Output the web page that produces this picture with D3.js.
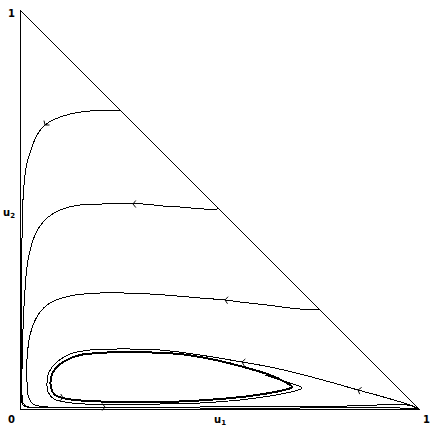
<!doctype HTML>
<meta charset="utf-8">
<style>
    body { margin: 0; background: #fff; }
    .curve { fill: none; stroke: black; stroke-width: 1; shape-rendering: crispEdges; }
    .cycle { fill: none; stroke: black; stroke-width: 2; shape-rendering: crispEdges; }
    .edge { fill: none; stroke: black; stroke-width: 1; shape-rendering: crispEdges; }
    .arrow { fill: none; stroke: black; stroke-width: 1; }
    .lbl { font-family: "DejaVu Sans", sans-serif; font-weight: bold; font-size: 10px; fill: black; }
</style>
<html>
<head>
    <script src="https://d3js.org/d3.v7.min.js"></script>
</head>
<body>
<div id="simplex"></div>
<script>

    // trajectories, as [u1, u2]
    var curveA = [[0.2506,0.7494],[0.2005,0.7469],[0.1754,0.7469],[0.1253,0.7393],[0.0827,0.7243],[0.0627,0.7118],
        [0.0426,0.6867],[0.0301,0.6566],[0.0175,0.6165],[0.0125,0.5865],[0.0075,0.5238],[0.0050,0.4236],
        [0.0038,0.2732],[0.0038,0.1228],[0.0038,0.0351],[0.0050,0.0150],[0.0125,0.0063],[0.0376,0.0038],
        [0.2005,0.0030],[0.4511,0.0025],[0.7018,0.0025],[0.9524,0.0025],[0.9950,0.0013]];

    var curveB = [[0.4987,0.5013],[0.4586,0.5013],[0.4010,0.5063],[0.3584,0.5088],[0.3083,0.5138],[0.2832,0.5138],
        [0.2080,0.5138],[0.1504,0.5113],[0.1003,0.4987],[0.0627,0.4737],[0.0376,0.4361],[0.0201,0.3734],
        [0.0125,0.2982],[0.0075,0.1980],[0.0050,0.0977],[0.0050,0.0351],[0.0075,0.0150],[0.0175,0.0063],
        [0.0501,0.0038],[0.2005,0.0030]];

    var curveC = [[0.7494,0.2506],[0.7018,0.2506],[0.6190,0.2607],[0.5514,0.2682],[0.5138,0.2732],[0.4511,0.2782],
        [0.3258,0.2882],[0.2005,0.2907],[0.1253,0.2832],[0.0752,0.2657],[0.0451,0.2356],[0.0251,0.1855],
        [0.0175,0.1228],[0.0175,0.0727],[0.0201,0.0351],[0.0326,0.0125],[0.0702,0.0050],[0.2130,0.0050],
        [0.4511,0.0050],[0.7018,0.0063],[0.8195,0.0075],[0.8772,0.0088],[0.9398,0.0125],[0.9774,0.0088],[0.9950,0.0025]];

    var curveD = [[0.9975,0.0013],[0.9774,0.0100],[0.9023,0.0326],[0.8471,0.0476],[0.7769,0.0677],[0.7018,0.0877],
        [0.6266,0.1053],[0.5564,0.1178],[0.4511,0.1353],[0.3509,0.1479],[0.2506,0.1504],[0.1754,0.1479],
        [0.1253,0.1378],[0.0927,0.1178],[0.0727,0.0927],[0.0677,0.0652],[0.0702,0.0426],[0.0852,0.0251],
        [0.1128,0.0175],[0.1629,0.0125],[0.2506,0.0125],[0.3509,0.0125],[0.4511,0.0150],[0.5514,0.0226],
        [0.6266,0.0326],[0.6892,0.0451],[0.7068,0.0526],[0.6917,0.0602],[0.6516,0.0727],[0.6140,0.0852]];

    // the closed orbit the spirals wind onto
    var cycle = [[0.6817,0.0551],[0.6642,0.0677],[0.6266,0.0852],[0.5514,0.1078],[0.5013,0.1203],[0.4511,0.1303],
        [0.4010,0.1378],[0.3509,0.1404],[0.3008,0.1429],[0.2506,0.1429],[0.2005,0.1404],[0.1504,0.1353],
        [0.1128,0.1203],[0.0877,0.1003],[0.0777,0.0777],[0.0777,0.0526],[0.0877,0.0351],[0.1078,0.0276],
        [0.1378,0.0226],[0.2005,0.0188],[0.3008,0.0175],[0.4010,0.0188],[0.5013,0.0251],[0.5764,0.0326],
        [0.6391,0.0426],[0.6717,0.0501]];

    // where the direction marks sit: curve and point index
    var arrows = [[curveA, 5], [curveB, 5], [curveC, 4], [curveC, 17], [curveD, 3], [curveD, 7], [cycle, 17]];

    var cornerLabels = [["0", 0, 0], ["1", 1, 0], ["1", 0, 1]];

    var width = 440, height = 440;

    var svg = d3.select("#simplex")
        .append("svg")
        .attr("width", width)
        .attr("height", height);

    var x = d3.scaleLinear().domain([0, 1]).range([20, 419]);
    var y = d3.scaleLinear().domain([0, 1]).range([409, 10]);

    var line = d3.line()
        .x(function(d) { return x(d[0]); })
        .y(function(d) { return y(d[1]); })
        .curve(d3.curveCatmullRom.alpha(0.5));

    // triangle u1 + u2 <= 1
    svg.append("path")
        .attr("class", "edge")
        .attr("d", d3.line().x(function(d) { return x(d[0]); }).y(function(d) { return y(d[1]); })
            ([[0, 1], [0, 0], [1, 0], [0, 1]]));

    [curveA, curveB, curveC, curveD].forEach(function(c) {
        svg.append("path").attr("class", "curve").attr("d", line(c));
    });

    svg.append("path")
        .attr("class", "cycle")
        .attr("d", d3.line()
            .x(function(d) { return x(d[0]); })
            .y(function(d) { return y(d[1]); })
            .curve(d3.curveCatmullRomClosed.alpha(0.5))(cycle));

    // small chevrons pointing along the flow
    arrows.forEach(function(a) {
        var p = a[0][a[1]], q = a[0][a[1] + 1];
        var px = x(p[0]), py = y(p[1]);
        var ang = Math.atan2(y(q[1]) - py, x(q[0]) - px);
        var len = 4.5, spread = 0.9;
        var l1 = [px - len * Math.cos(ang - spread), py - len * Math.sin(ang - spread)];
        var l2 = [px - len * Math.cos(ang + spread), py - len * Math.sin(ang + spread)];
        svg.append("path")
            .attr("class", "arrow")
            .attr("d", "M" + l1 + "L" + [px, py] + "L" + l2);
    });

    // corner values
    svg.selectAll(".corner")
        .data(cornerLabels)
        .enter().append("text")
        .attr("class", "lbl corner")
        .attr("x", function(d) { return d[1] === 1 ? x(d[1]) + 4 : x(d[1]) - 12; })
        .attr("y", function(d) { return d[2] === 1 ? y(d[2]) + 7 : y(d[2]) + 14; })
        .text(function(d) { return d[0]; });

    // axis names
    var u1 = svg.append("text").attr("class", "lbl").attr("x", 214).attr("y", 423);
    u1.append("tspan").text("u");
    u1.append("tspan").attr("dy", 2).attr("font-size", "7px").text("1");

    var u2 = svg.append("text").attr("class", "lbl").attr("x", 3).attr("y", 216);
    u2.append("tspan").text("u");
    u2.append("tspan").attr("dy", 2).attr("font-size", "7px").text("2");

</script>
</body>
</html>
